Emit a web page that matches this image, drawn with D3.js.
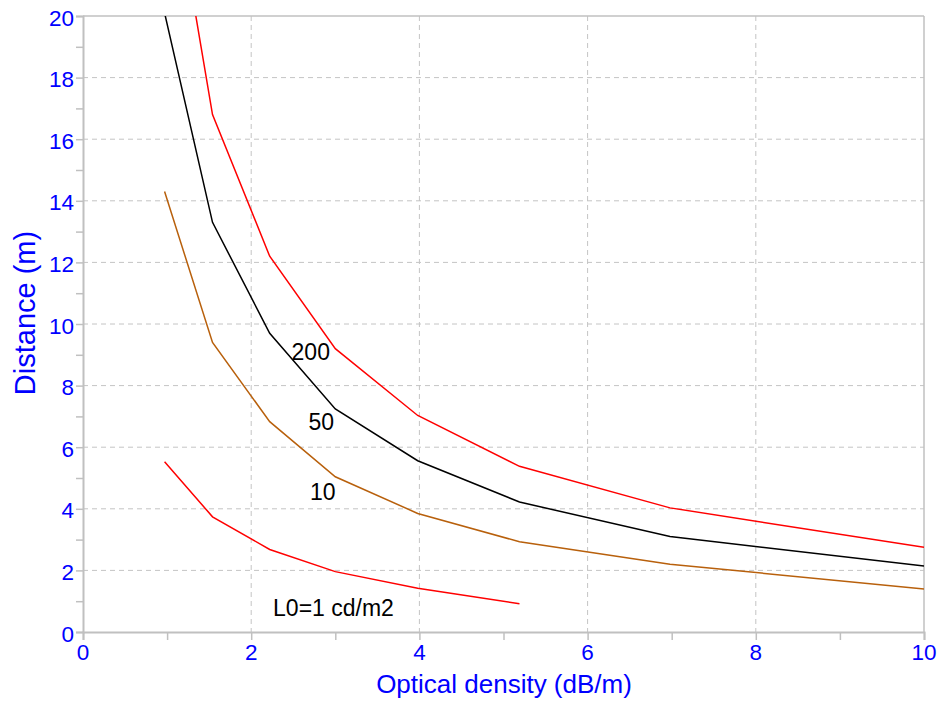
<!DOCTYPE html>
<html>
<head>
<meta charset="utf-8">
<script src="https://cdn.jsdelivr.net/npm/d3@7"></script>
<style>
  body { margin: 0; background: #fff; }
  text { font-family: "Liberation Sans", Arial, sans-serif; }
</style>
</head>
<body>
<div id="chart-area"></div>
<script>
// optical density (dB/m) at the curve vertices
var density = [0.97, 1.54, 2.22, 3.0, 3.98, 5.19, 6.98, 10];

var dist200 = [26.0, 16.8, 12.2, 9.2, 7.03, 5.38, 4.03, 2.75];
var dist50 = [20.1, 13.3, 9.7, 7.24, 5.56, 4.22, 3.1, 2.14];
var dist10 = [14.3, 9.4, 6.83, 5.04, 3.85, 2.93, 2.2, 1.4];
var dist1 = [5.53, 3.74, 2.68, 1.96, 1.42, 0.92];

var xTicks = [0, 2, 4, 6, 8, 10];
var yTicks = [0, 2, 4, 6, 8, 10, 12, 14, 16, 18, 20];

var series = [
  { name: "200", values: dist200, color: "#ff0000", label: [2.48, 8.82] },
  { name: "50", values: dist50, color: "#000000", label: [2.68, 6.57] },
  { name: "10", values: dist10, color: "#b8600c", label: [2.7, 4.3] },
  { name: "L0=1 cd/m2", values: dist1, color: "#ff0000", label: [2.26, 0.53] }
];

var svg = d3.select("#chart-area")
  .append("svg")
  .attr("width", 942)
  .attr("height", 704);

var margin = { top: 16, right: 18, bottom: 72, left: 83 };
var width = 924 - margin.left;
var height = 632 - margin.top;

var g = svg.append("g")
  .attr("transform", "translate(" + margin.left + "," + margin.top + ")");

var x = d3.scaleLinear().domain([0, 10]).range([0, width]);
var y = d3.scaleLinear().domain([0, 20]).range([height, 0]);

// grid
g.selectAll(".vgrid")
  .data(xTicks.slice(1, -1))
  .enter()
  .append("line")
  .attr("x1", function(d) { return x(d); })
  .attr("x2", function(d) { return x(d); })
  .attr("y1", 0)
  .attr("y2", height)
  .attr("stroke", "#c4c4c4")
  .attr("stroke-dasharray", "5,4");

g.selectAll(".hgrid")
  .data(yTicks.slice(1, -1))
  .enter()
  .append("line")
  .attr("x1", 0)
  .attr("x2", width)
  .attr("y1", function(d) { return y(d); })
  .attr("y2", function(d) { return y(d); })
  .attr("stroke", "#c4c4c4")
  .attr("stroke-dasharray", "5,4");

// axes
var xAxis = g.append("g")
  .attr("transform", "translate(0," + height + ")")
  .call(d3.axisBottom(x).tickValues(d3.range(0, 11, 1)).tickSize(8).tickFormat(""));
var yAxis = g.append("g")
  .call(d3.axisLeft(y).tickValues(d3.range(0, 21, 1)).tickSize(7).tickFormat(""));

[xAxis, yAxis].forEach(function(a) {
  a.select(".domain").attr("stroke", "#c0c0c0").attr("stroke-width", 2);
  a.selectAll(".tick line").attr("stroke", "#c0c0c0").attr("stroke-width", 1.5);
});

// top/right frame
g.append("line").attr("x1", 0).attr("x2", width).attr("y1", 0).attr("y2", 0)
  .attr("stroke", "#c0c0c0").attr("stroke-width", 1.5);
g.append("line").attr("x1", width).attr("x2", width).attr("y1", 0).attr("y2", height)
  .attr("stroke", "#c0c0c0").attr("stroke-width", 1.5);

// tick labels
g.selectAll(".xlab")
  .data(xTicks)
  .enter()
  .append("text")
  .attr("x", function(d) { return x(d); })
  .attr("y", height + 28)
  .attr("text-anchor", "middle")
  .attr("fill", "#0000ff")
  .style("font-size", "22.5px")
  .text(function(d) { return d; });

g.selectAll(".ylab")
  .data(yTicks)
  .enter()
  .append("text")
  .attr("x", -9)
  .attr("y", function(d) { return y(d) + 9.5; })
  .attr("text-anchor", "end")
  .attr("fill", "#0000ff")
  .style("font-size", "22.5px")
  .text(function(d) { return d; });

// axis titles
svg.append("text")
  .attr("x", 504)
  .attr("y", 693)
  .attr("text-anchor", "middle")
  .attr("fill", "#0000ff")
  .style("font-size", "26px")
  .text("Optical density (dB/m)");

svg.append("text")
  .attr("transform", "translate(35,313) rotate(-90)")
  .attr("text-anchor", "middle")
  .attr("fill", "#0000ff")
  .style("font-size", "29px")
  .text("Distance (m)");

// curves
g.append("clipPath").attr("id", "clip")
  .append("rect").attr("width", width).attr("height", height);

var line = d3.line()
  .x(function(d, i) { return x(density[i]); })
  .y(function(d) { return y(d); });

g.append("g").attr("clip-path", "url(#clip)")
  .selectAll("path")
  .data(series)
  .enter()
  .append("path")
  .attr("d", function(d) { return line(d.values); })
  .attr("fill", "none")
  .attr("stroke", function(d) { return d.color; })
  .attr("stroke-width", 1.5);

g.selectAll(".curve-label")
  .data(series)
  .enter()
  .append("text")
  .attr("x", function(d) { return x(d.label[0]); })
  .attr("y", function(d) { return y(d.label[1]); })
  .attr("fill", "#000")
  .style("font-size", "23px")
  .text(function(d) { return d.name; });
</script>
</body>
</html>
